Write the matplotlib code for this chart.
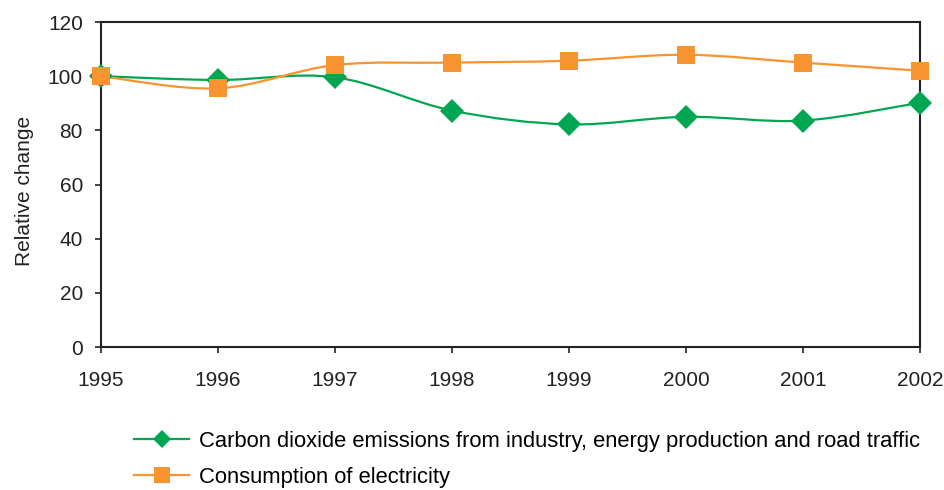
import matplotlib
matplotlib.use("Agg")
import matplotlib.pyplot as plt
from matplotlib.path import Path
from matplotlib.patches import PathPatch
from matplotlib.lines import Line2D
import numpy as np

plt.rcParams['font.family'] = ['Liberation Sans', 'DejaVu Sans']

years = [1995, 1996, 1997, 1998, 1999, 2000, 2001, 2002]
co2_emissions = [100.0, 98.6, 99.6, 87.3, 82.2, 85.0, 83.6, 90.2]
electricity = [100.0, 95.5, 104.1, 105.0, 105.7, 107.9, 105.0, 102.0]

labels = ["Carbon dioxide emissions from industry, energy production and road traffic",
          "Consumption of electricity"]
green = "#00A651"
orange = "#F7942F"
ink = "#222222"


def smooth_path(xs, ys):
    """Cubic Bezier curve through the points (Catmull-Rom style tangents)."""
    xs = np.asarray(xs, float)
    ys = np.asarray(ys, float)
    n = len(xs)
    verts = [(xs[0], ys[0])]
    codes = [Path.MOVETO]
    for i in range(n - 1):
        i0 = max(i - 1, 0)
        i3 = min(i + 2, n - 1)
        c1 = (xs[i] + (xs[i + 1] - xs[i0]) / 6, ys[i] + (ys[i + 1] - ys[i0]) / 6)
        c2 = (xs[i + 1] - (xs[i3] - xs[i]) / 6, ys[i + 1] - (ys[i3] - ys[i]) / 6)
        verts += [c1, c2, (xs[i + 1], ys[i + 1])]
        codes += [Path.CURVE4] * 3
    return Path(verts, codes)


fig = plt.figure(figsize=(9.45, 4.9), dpi=100)
ax = fig.add_axes([0.1069, 0.2918, 0.8666, 0.6633])

for vals, col, mk, ms in [(co2_emissions, green, 'D', 12),
                          (electricity, orange, 's', 13)]:
    ax.add_patch(PathPatch(smooth_path(years, vals), fill=False,
                           edgecolor=col, lw=1.6, zorder=2))
    ax.plot(years, vals, linestyle='none', marker=mk, markersize=ms,
            color=col, markeredgewidth=0, zorder=3, clip_on=False)

ax.set_xlim(1995, 2002)
ax.set_ylim(0, 120)
ax.set_xticks(years)
ax.set_yticks(range(0, 121, 20))
ax.tick_params(axis='both', labelsize=15, colors=ink, length=4, width=1.2)
ax.tick_params(axis='x', pad=13)
ax.tick_params(axis='y', pad=9)
for s in ax.spines.values():
    s.set_linewidth(1.5)
    s.set_color(ink)
ax.set_ylabel("Relative change", fontsize=15, color=ink)
ax.yaxis.set_label_coords(-0.082, 0.48)

handles = [Line2D([], [], color=green, lw=1.6, marker='D', markersize=9, markeredgewidth=0),
           Line2D([], [], color=orange, lw=1.6, marker='s', markersize=11, markeredgewidth=0)]
fig.legend(handles, labels, loc='upper left', bbox_to_anchor=(0.142, 0.121),
           frameon=False, fontsize=15.85, handlelength=2.5, handletextpad=0.45,
           labelspacing=0.68, borderaxespad=0, borderpad=0)

fig.savefig("out.png", dpi=100)
